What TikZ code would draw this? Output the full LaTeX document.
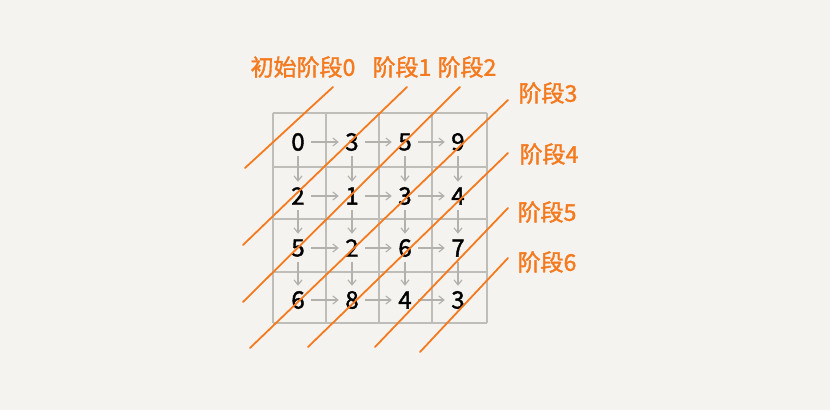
\documentclass[tikz,border=0pt]{standalone}
\usepackage{fontspec}
\newfontfamily\cjk[FakeBold=1.6]{Noto Sans CJK SC}
\usetikzlibrary{arrows.meta}
\definecolor{bg}{HTML}{F4F3EF}
\definecolor{gridc}{HTML}{BFBDB7}
\definecolor{arrc}{HTML}{B3B1AC}
\definecolor{orng}{HTML}{F47A1F}
\begin{document}
\begin{tikzpicture}[x=1pt,y=-1pt,
  num/.style={font=\cjk\fontsize{24}{24}\selectfont, text=black, inner sep=0pt, minimum width=26pt, minimum height=28pt},
  lab/.style={font=\cjk\fontsize{23}{23}\selectfont, text=orng, inner sep=0pt},
  arr/.style={draw=arrc, line width=1.2pt, -{Straight Barb[length=5pt,width=8pt]}},
  gridl/.style={draw=gridc, line width=1.3pt},
  stage/.style={draw=orng, line width=1.8pt, line cap=round}]
\fill[bg] (0,0) rectangle (830,410);
\useasboundingbox (0,0) rectangle (830,410);
% grid
\foreach \x in {273,326,379,432,487} \draw[gridl] (\x,113) -- (\x,323);
\foreach \y in {113,167,219,272,323} \draw[gridl] (273,\y) -- (487,\y);
% numbers
\node[num] (n00) at (298,142) {0};
\node[num] (n01) at (352,142) {3};
\node[num] (n02) at (405,142) {5};
\node[num] (n03) at (458,142) {9};
\node[num] (n10) at (298,196) {2};
\node[num] (n11) at (352,196) {1};
\node[num] (n12) at (405,196) {3};
\node[num] (n13) at (458,196) {4};
\node[num] (n20) at (298,248) {5};
\node[num] (n21) at (352,248) {2};
\node[num] (n22) at (405,248) {6};
\node[num] (n23) at (458,248) {7};
\node[num] (n30) at (298,300) {6};
\node[num] (n31) at (352,300) {8};
\node[num] (n32) at (405,300) {4};
\node[num] (n33) at (458,300) {3};
% arrows
\foreach \r in {0,1,2,3}{
  \draw[arr] (n\r0) -- (n\r1);
  \draw[arr] (n\r1) -- (n\r2);
  \draw[arr] (n\r2) -- (n\r3);
}
\foreach \c in {0,1,2,3}{
  \draw[arr] (n0\c) -- (n1\c);
  \draw[arr] (n1\c) -- (n2\c);
  \draw[arr] (n2\c) -- (n3\c);
}
% labels
\node[lab] (l0) at (303,67) {初始阶段0};
\node[lab] (l1) at (402,67) {阶段1};
\node[lab] (l2) at (467,67) {阶段2};
\node[lab] (l3) at (548,93) {阶段3};
\node[lab] (l4) at (549,154) {阶段4};
\node[lab] (l5) at (547,212) {阶段5};
\node[lab] (l6) at (547,262) {阶段6};
% stage lines
\coordinate (a0) at (245,168); \coordinate (b0) at (333,87);
\coordinate (a1) at (243,245); \coordinate (b1) at (407,87);
\coordinate (a2) at (243,302); \coordinate (b2) at (460,87);
\coordinate (a3) at (250,348); \coordinate (b3) at (508,100);
\coordinate (a4) at (308,347); \coordinate (b4) at (508,153);
\coordinate (a5) at (375,347); \coordinate (b5) at (508,208);
\coordinate (a6) at (420,352); \coordinate (b6) at (508,258);
\foreach \i in {0,...,6} \draw[stage] (a\i) -- (b\i);
\end{tikzpicture}
\end{document}
